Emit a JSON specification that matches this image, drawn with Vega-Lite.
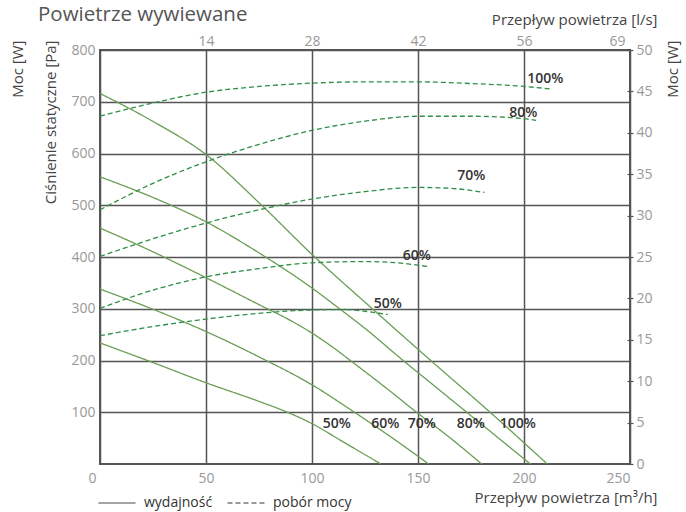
{
  "$schema": "https://vega.github.io/schema/vega-lite/v6.json",
  "width": 530,
  "height": 414,
  "autosize": {"type": "none"},
  "padding": {"left": 100, "top": 50, "right": 56, "bottom": 48},
  "title": {
    "text": "Powietrze wywiewane",
    "anchor": "start",
    "frame": "group",
    "fontSize": 20.5,
    "fontWeight": "normal",
    "color": "#555555",
    "font": "Open Sans",
    "dx": -62,
    "dy": 17
  },
  "config": {
    "font": "Open Sans",
    "view": {"stroke": "#555555", "strokeWidth": 2}
  },
  "datasets": {
    "pressure": [
      {"speed": "100%", "typ": "wydajność", "q": 0, "p": 716},
      {"speed": "100%", "typ": "wydajność", "q": 25, "p": 662},
      {"speed": "100%", "typ": "wydajność", "q": 50, "p": 598},
      {"speed": "100%", "typ": "wydajność", "q": 75, "p": 505},
      {"speed": "100%", "typ": "wydajność", "q": 100, "p": 405},
      {"speed": "100%", "typ": "wydajność", "q": 129, "p": 298},
      {"speed": "100%", "typ": "wydajność", "q": 156, "p": 200},
      {"speed": "100%", "typ": "wydajność", "q": 184, "p": 100},
      {"speed": "100%", "typ": "wydajność", "q": 211, "p": 0},
      {"speed": "80%", "typ": "wydajność", "q": 0, "p": 555},
      {"speed": "80%", "typ": "wydajność", "q": 25, "p": 515},
      {"speed": "80%", "typ": "wydajność", "q": 50, "p": 468},
      {"speed": "80%", "typ": "wydajność", "q": 75, "p": 408},
      {"speed": "80%", "typ": "wydajność", "q": 100, "p": 340},
      {"speed": "80%", "typ": "wydajność", "q": 113, "p": 300},
      {"speed": "80%", "typ": "wydajność", "q": 125, "p": 262},
      {"speed": "80%", "typ": "wydajność", "q": 143, "p": 200},
      {"speed": "80%", "typ": "wydajność", "q": 158, "p": 150},
      {"speed": "80%", "typ": "wydajność", "q": 173, "p": 100},
      {"speed": "80%", "typ": "wydajność", "q": 203, "p": 0},
      {"speed": "70%", "typ": "wydajność", "q": 0, "p": 456},
      {"speed": "70%", "typ": "wydajność", "q": 25, "p": 410},
      {"speed": "70%", "typ": "wydajność", "q": 50, "p": 360},
      {"speed": "70%", "typ": "wydajność", "q": 75, "p": 308},
      {"speed": "70%", "typ": "wydajność", "q": 90, "p": 277},
      {"speed": "70%", "typ": "wydajność", "q": 100, "p": 253},
      {"speed": "70%", "typ": "wydajność", "q": 110, "p": 225},
      {"speed": "70%", "typ": "wydajność", "q": 120, "p": 194},
      {"speed": "70%", "typ": "wydajność", "q": 134, "p": 150},
      {"speed": "70%", "typ": "wydajność", "q": 149, "p": 101},
      {"speed": "70%", "typ": "wydajność", "q": 165, "p": 51},
      {"speed": "70%", "typ": "wydajność", "q": 180, "p": 0},
      {"speed": "60%", "typ": "wydajność", "q": 0, "p": 338},
      {"speed": "60%", "typ": "wydajność", "q": 25, "p": 299},
      {"speed": "60%", "typ": "wydajność", "q": 50, "p": 256},
      {"speed": "60%", "typ": "wydajność", "q": 75, "p": 207},
      {"speed": "60%", "typ": "wydajność", "q": 100, "p": 153},
      {"speed": "60%", "typ": "wydajność", "q": 120, "p": 100},
      {"speed": "60%", "typ": "wydajność", "q": 138, "p": 50},
      {"speed": "60%", "typ": "wydajność", "q": 155, "p": 0},
      {"speed": "50%", "typ": "wydajność", "q": 0, "p": 234},
      {"speed": "50%", "typ": "wydajność", "q": 25, "p": 196},
      {"speed": "50%", "typ": "wydajność", "q": 50, "p": 157},
      {"speed": "50%", "typ": "wydajność", "q": 75, "p": 121},
      {"speed": "50%", "typ": "wydajność", "q": 89, "p": 99},
      {"speed": "50%", "typ": "wydajność", "q": 100, "p": 78},
      {"speed": "50%", "typ": "wydajność", "q": 115, "p": 42},
      {"speed": "50%", "typ": "wydajność", "q": 132.5, "p": 0}
    ],
    "power": [
      {"speed": "100%", "typ": "pobór mocy", "q": 0, "w": 42.0},
      {"speed": "100%", "typ": "pobór mocy", "q": 25, "w": 43.6},
      {"speed": "100%", "typ": "pobór mocy", "q": 50, "w": 44.9},
      {"speed": "100%", "typ": "pobór mocy", "q": 75, "w": 45.6},
      {"speed": "100%", "typ": "pobór mocy", "q": 100, "w": 46.0},
      {"speed": "100%", "typ": "pobór mocy", "q": 125, "w": 46.15},
      {"speed": "100%", "typ": "pobór mocy", "q": 150, "w": 46.15},
      {"speed": "100%", "typ": "pobór mocy", "q": 175, "w": 45.95},
      {"speed": "100%", "typ": "pobór mocy", "q": 200, "w": 45.6},
      {"speed": "100%", "typ": "pobór mocy", "q": 212.7, "w": 45.3},
      {"speed": "80%", "typ": "pobór mocy", "q": 0, "w": 30.7},
      {"speed": "80%", "typ": "pobór mocy", "q": 25, "w": 33.9},
      {"speed": "80%", "typ": "pobór mocy", "q": 50, "w": 36.5},
      {"speed": "80%", "typ": "pobór mocy", "q": 75, "w": 38.6},
      {"speed": "80%", "typ": "pobór mocy", "q": 100, "w": 40.3},
      {"speed": "80%", "typ": "pobór mocy", "q": 125, "w": 41.4},
      {"speed": "80%", "typ": "pobór mocy", "q": 150, "w": 42.0},
      {"speed": "80%", "typ": "pobór mocy", "q": 175, "w": 42.0},
      {"speed": "80%", "typ": "pobór mocy", "q": 200, "w": 41.7},
      {"speed": "80%", "typ": "pobór mocy", "q": 205.7, "w": 41.5},
      {"speed": "70%", "typ": "pobór mocy", "q": 0, "w": 25.07},
      {"speed": "70%", "typ": "pobór mocy", "q": 25, "w": 27.2},
      {"speed": "70%", "typ": "pobór mocy", "q": 50, "w": 29.1},
      {"speed": "70%", "typ": "pobór mocy", "q": 75, "w": 30.7},
      {"speed": "70%", "typ": "pobór mocy", "q": 100, "w": 32.0},
      {"speed": "70%", "typ": "pobór mocy", "q": 125, "w": 32.9},
      {"speed": "70%", "typ": "pobór mocy", "q": 150, "w": 33.4},
      {"speed": "70%", "typ": "pobór mocy", "q": 165, "w": 33.3},
      {"speed": "70%", "typ": "pobór mocy", "q": 181.3, "w": 32.8},
      {"speed": "60%", "typ": "pobór mocy", "q": 0, "w": 18.8},
      {"speed": "60%", "typ": "pobór mocy", "q": 25, "w": 21.0},
      {"speed": "60%", "typ": "pobór mocy", "q": 50, "w": 22.6},
      {"speed": "60%", "typ": "pobór mocy", "q": 75, "w": 23.6},
      {"speed": "60%", "typ": "pobór mocy", "q": 100, "w": 24.3},
      {"speed": "60%", "typ": "pobór mocy", "q": 125, "w": 24.45},
      {"speed": "60%", "typ": "pobór mocy", "q": 140, "w": 24.3},
      {"speed": "60%", "typ": "pobór mocy", "q": 154.5, "w": 23.85},
      {"speed": "50%", "typ": "pobór mocy", "q": 0, "w": 15.5},
      {"speed": "50%", "typ": "pobór mocy", "q": 25, "w": 16.6},
      {"speed": "50%", "typ": "pobór mocy", "q": 50, "w": 17.5},
      {"speed": "50%", "typ": "pobór mocy", "q": 75, "w": 18.2},
      {"speed": "50%", "typ": "pobór mocy", "q": 100, "w": 18.6},
      {"speed": "50%", "typ": "pobór mocy", "q": 115, "w": 18.65},
      {"speed": "50%", "typ": "pobór mocy", "q": 125, "w": 18.45},
      {"speed": "50%", "typ": "pobór mocy", "q": 135.7, "w": 18.05}
    ],
    "labels": [
      {"label": "100%", "q": 210, "p": 744},
      {"label": "80%", "q": 199.7, "p": 679},
      {"label": "70%", "q": 175.1, "p": 556},
      {"label": "60%", "q": 149.4, "p": 402},
      {"label": "50%", "q": 135.8, "p": 309},
      {"label": "50%", "q": 111.7, "p": 77},
      {"label": "60%", "q": 134.6, "p": 77},
      {"label": "70%", "q": 151.8, "p": 77},
      {"label": "80%", "q": 174.9, "p": 77},
      {"label": "100%", "q": 197.1, "p": 77}
    ]
  },
  "layer": [
    {
      "data": {"name": "pressure"},
      "mark": {"type": "line", "color": "#6a9e55", "strokeWidth": 1.3, "interpolate": "monotone"},
      "encoding": {
        "x": {
          "field": "q", "type": "quantitative",
          "scale": {"domain": [0, 250], "nice": false},
          "axis": {
            "orient": "bottom",
            "values": [0, 50, 100, 150, 200, 250],
            "grid": true, "gridColor": "#555555", "gridWidth": 1.5,
            "ticks": false, "domain": false,
            "labelPadding": 7, "labelFontSize": 14, "labelColor": "#999999",
            "labelOffset": {"condition": {"test": "datum.value == 0", "value": -12}, "value": 0},
            "title": "Przepływ powietrza [m³/h]",
            "titleFontSize": 15, "titleFontWeight": "normal", "titleColor": "#444444",
            "titleAlign": "right", "titleBaseline": "middle", "titleAnchor": null,
            "titleX": 557, "titleY": 33
          }
        },
        "y": {
          "field": "p", "type": "quantitative",
          "scale": {"domain": [0, 800], "nice": false},
          "axis": {
            "orient": "left",
            "values": [100, 200, 300, 400, 500, 600, 700, 800],
            "grid": true, "gridColor": "#555555", "gridWidth": 1.5,
            "ticks": false, "domain": false,
            "labelPadding": 5, "labelFontSize": 14, "labelColor": "#999999",
            "title": "Ciśnienie statyczne [Pa]",
            "titleFontSize": 15, "titleFontWeight": "normal", "titleColor": "#444444",
            "titleAngle": -90, "titleAlign": "right", "titleBaseline": "middle",
            "titleX": -50, "titleY": -10
          }
        },
        "detail": {"field": "speed"},
        "strokeDash": {
          "field": "typ", "type": "nominal",
          "scale": {"domain": ["wydajność", "pobór mocy"], "range": [[1, 0], [5, 3]]},
          "legend": {
            "orient": "none", "legendX": -2, "legendY": 434,
            "direction": "horizontal", "title": null,
            "symbolType": "stroke", "symbolSize": 1369, "symbolStrokeWidth": 1,
            "symbolStrokeColor": "#333333",
            "labelFontSize": 14, "labelColor": "#333333", "labelOffset": 8,
            "columnPadding": 12, "padding": 0,
            "encode": {"symbols": {"update": {"stroke": {"value": "#333333"}, "strokeWidth": {"value": 1}}}}
          }
        }
      }
    },
    {
      "data": {"name": "power"},
      "mark": {"type": "line", "color": "#2f8f46", "strokeWidth": 1.3, "interpolate": "monotone"},
      "encoding": {
        "x": {"field": "q", "type": "quantitative", "scale": {"domain": [0, 250], "nice": false}, "axis": null},
        "y": {
          "field": "w", "type": "quantitative",
          "scale": {"domain": [0, 50], "nice": false},
          "axis": {
            "orient": "right",
            "values": [0, 5, 10, 15, 20, 25, 30, 35, 40, 45, 50],
            "grid": false, "domain": false, "offset": -3,
            "ticks": true, "tickSize": 6, "tickColor": "#555555", "tickWidth": 1.2,
            "labelPadding": 3, "labelFontSize": 14, "labelColor": "#999999",
            "title": "Moc [W]",
            "titleFontSize": 15, "titleFontWeight": "normal", "titleColor": "#444444",
            "titleAngle": -90, "titleAlign": "right", "titleBaseline": "middle",
            "titleX": 45, "titleY": -10
          }
        },
        "detail": {"field": "speed"},
        "strokeDash": {"field": "typ", "type": "nominal"}
      }
    },
    {
      "data": {"name": "labels"},
      "mark": {"type": "text", "fontSize": 14, "fontWeight": 600, "color": "#333333", "align": "center", "baseline": "middle"},
      "encoding": {
        "x": {
          "field": "q", "type": "quantitative",
          "scale": {"domain": [0, 250], "nice": false},
          "axis": {
            "orient": "top",
            "values": [50, 100, 150, 200, 250],
            "labelExpr": "datum.value == 50 ? '14' : datum.value == 100 ? '28' : datum.value == 150 ? '42' : datum.value == 200 ? '56' : '69'",
            "labelOffset": {"condition": {"test": "datum.value == 250", "value": -5}, "value": 0},
            "grid": false, "ticks": false, "domain": false,
            "labelPadding": 2, "labelFontSize": 14, "labelColor": "#999999",
            "title": "Przepływ powietrza [l/s]",
            "titleFontSize": 15, "titleFontWeight": "normal", "titleColor": "#444444",
            "titleAlign": "right", "titleBaseline": "middle", "titleAnchor": null,
            "titleX": 557, "titleY": -31
          }
        },
        "y": {
          "field": "p", "type": "quantitative",
          "scale": {"domain": [0, 800], "nice": false},
          "axis": {
            "orient": "left",
            "labels": false, "ticks": false, "domain": false, "grid": false,
            "title": "Moc [W]",
            "titleFontSize": 15, "titleFontWeight": "normal", "titleColor": "#444444",
            "titleAngle": -90, "titleAlign": "right", "titleBaseline": "middle",
            "titleX": -83, "titleY": -10
          }
        },
        "text": {"field": "label"}
      }
    }
  ],
  "resolve": {
    "scale": {"y": "independent"},
    "axis": {"x": "independent", "y": "independent"}
  }
}
